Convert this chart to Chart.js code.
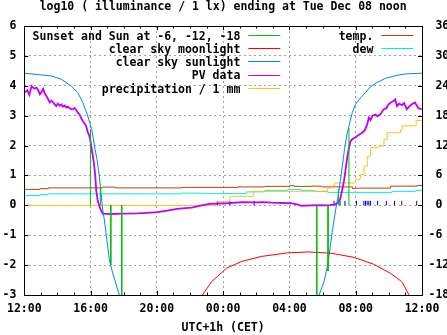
<!DOCTYPE html>
<html>
<head>
<meta charset="utf-8">
<title>log10 illuminance</title>
<script src="https://cdn.jsdelivr.net/npm/chart.js@4.4.1/dist/chart.umd.min.js"></script>
<style>
  html, body { margin: 0; padding: 0; background: #fff; }
  canvas { display: block; }
</style>
</head>
<body>
<canvas id="lux" width="447" height="335"></canvas>
<script>
// x values are hours after Mon 12:00 (CET), left axis is log10(lux), right axis is deg C

var TITLE = 'log10 ( illuminance / 1 lx) ending at Tue Dec 08 noon';
var X_TITLE = 'UTC+1h (CET)';

var xTicks      = [0, 4, 8, 12, 16, 20, 24];
var xTickLabels = ['12:00', '16:00', '20:00', '00:00', '04:00', '08:00', '12:00'];
var yMin = -3, yMax = 6;
var y2Min = -18, y2Max = 36;

// sunset / sunrise and sun at -6, -12, -18 deg (impulses)
var sunHours  = [3.99, 4.59, 5.22, 5.88, 17.65, 18.33, 18.95, 19.59];
var sunLevels = [2.55, 0.6, -2.0, -3.3, -3.3, -2.2, 0.55, 2.6];

var moonHours  = [10.5, 10.75, 11.31, 12.21, 13.11, 14.30, 15.90, 17.12, 18.49, 19.89, 21.08, 22.08, 22.78, 23.22, 23.4];
var moonLevels = [-3.4, -3.0, -2.55, -2.1, -1.88, -1.71, -1.59, -1.56, -1.60, -1.74, -1.97, -2.27, -2.55, -3.0, -3.4];

var sunlightHours  = [0, 1.63, 2.23, 2.83, 3.23, 3.53, 3.83, 4.07, 4.27, 4.39, 4.53, 4.73, 4.83, 5.13, 5.33, 5.52, 5.73, 6.0,
                      17.6, 17.79, 18.09, 18.33, 18.60, 18.79, 18.93, 19.05, 19.19, 19.33, 19.48, 19.59, 19.79, 19.99, 20.29, 20.59, 20.89, 21.29, 21.79, 22.49, 23.08, 24];
var sunlightLevels = [4.42, 4.33, 4.22, 3.99, 3.77, 3.44, 2.99, 2.54, 1.87, 1.53, 0.97, -0.14, -0.48, -1.82, -2.26, -2.6, -3.0, -3.4,
                      -3.4, -3.0, -2.55, -1.93, -0.82, -0.14, 0.28, 0.75, 1.3, 1.9, 2.4, 2.65, 3.1, 3.38, 3.6, 3.77, 3.97, 4.11, 4.25, 4.35, 4.4, 4.42];

var pvHours = [0.00, 0.18, 0.30, 0.44, 0.60, 0.74, 0.84, 0.94, 1.05, 1.14, 1.23, 1.33, 1.44, 1.54, 1.65, 1.74, 1.83, 1.93,
               2.03, 2.14, 2.23, 2.33, 2.44, 2.53, 2.63, 2.74, 2.83, 2.93, 3.03, 3.13, 3.23, 3.33, 3.43, 3.53, 3.63, 3.73,
               3.83, 3.93, 4.01, 4.07, 4.19, 4.28, 4.34, 4.43, 4.59, 4.73, 5.33, 5.93, 6.82, 7.42, 8.02, 8.62, 9.22, 9.70,
               10.11, 10.71, 11.19, 12.21, 13.21, 14.01, 14.42, 14.90, 16.10, 16.52, 16.71, 17.30, 17.78, 18.31, 18.69,
               18.90, 19.05, 19.19, 19.29, 19.39, 19.49, 19.60, 19.69, 19.81, 19.99, 20.17, 20.39, 20.53, 20.69, 20.79,
               20.89, 21.01, 21.19, 21.31, 21.49, 21.68, 21.85, 21.98, 22.14, 22.28, 22.38, 22.49, 22.62, 22.79, 22.92,
               23.08, 23.22, 23.38, 23.58, 23.78, 23.98];
var pvLevels = [3.77, 3.85, 3.7, 3.99, 3.9, 3.94, 3.85, 3.71, 3.8, 3.9, 3.75, 3.66, 3.55, 3.44, 3.5, 3.44, 3.38, 3.32,
                3.4, 3.33, 3.38, 3.3, 3.34, 3.27, 3.3, 3.25, 3.22, 3.21, 3.26, 3.2, 3.1, 3.04, 2.92, 2.82, 2.75, 2.65,
                2.45, 2.32, 2.1, 1.87, 1.45, 1.0, 0.5, 0.15, -0.12, -0.28, -0.29, -0.28, -0.27, -0.25, -0.23, -0.18, -0.12, -0.09,
                -0.08, 0.0, 0.05, 0.07, 0.11, 0.1, 0.11, 0.09, 0.07, 0.02, -0.02, 0.0, 0.01, 0.0, 0.02,
                0.08, 0.19, 0.53, 0.81, 1.2, 1.6, 1.95, 2.15, 2.22, 2.28, 2.35, 2.43, 2.5, 2.7, 2.93,
                2.85, 3.0, 3.04, 2.98, 3.05, 3.21, 3.25, 3.38, 3.45, 3.49, 3.55, 3.32, 3.4, 3.35, 3.42,
                3.21, 3.3, 3.38, 3.44, 3.25, 3.21];

var precipHours  = [0, 11.61, 12.41, 13.82, 18.31, 18.59, 18.73, 19.99, 20.23, 20.3, 20.5, 20.7, 20.9, 21.4, 21.7, 21.9, 22.7, 22.8, 23.65, 24];
var precipLevels = [0, 0.12, 0.3, 0.47, 0.58, 0.66, 0.75, 0.86, 0.9, 1.03, 1.31, 1.64, 1.93, 1.98, 2.2, 2.43, 2.52, 2.66, 2.84, 2.84];

// single rain events (short dark blue impulses)
var rainHours  = [11.67, 12.41, 13.87, 18.69, 19.05, 19.35, 20.05, 20.49, 20.59, 20.69, 20.79, 20.89, 21.32, 21.85, 22.34, 22.78, 23.68];
var rainLevels = [0.15, 0.15, 0.15, 0.15, 0.15, 0.15, 0.15, 0.15, 0.15, 0.15, 0.15, 0.15, 0.15, 0.15, 0.15, 0.15, 0.15];

var tempHours = [0, 0.94, 1.45, 4.7, 5.5, 9.5, 12.9, 14.5, 16.0, 16.3, 17.3, 17.9, 19.8, 20.0, 22.1, 23.7, 24];
var tempDegC  = [3.2, 3.35, 3.5, 3.65, 3.5, 3.6, 3.7, 3.8, 3.95, 3.8, 3.85, 3.7, 3.35, 3.45, 3.85, 4.0, 4.0];

var dewHours = [0, 0.94, 1.45, 9.5, 10.7, 13.4, 14.5, 15.9, 16.7, 17.5, 18.3, 22.2, 23.6, 24];
var dewDegC  = [1.95, 2.15, 2.3, 2.45, 2.35, 2.7, 3.0, 3.2, 3.0, 2.8, 2.6, 2.8, 3.0, 3.0];

var FAMILY = "'DejaVu Sans Mono', monospace";
var FONT = 'bold 11.5px ' + FAMILY;

function pairs(xs, ys) {
    return xs.map(function (h, i) { return { x: h, y: ys[i] }; });
}
function impulses(xs, ys) {
    var out = [];
    xs.forEach(function (h, i) {
        out.push({ x: h, y: 0 }, { x: h, y: ys[i] }, { x: h, y: null });
    });
    return out;
}
function line(label, color, data, extra) {
    var ds = {
        label: label, data: data, borderColor: color, backgroundColor: color,
        borderWidth: 1, pointRadius: 0, tension: 0, fill: false, spanGaps: false, yAxisID: 'y'
    };
    for (var k in extra) ds[k] = extra[k];
    return ds;
}

var datasets = [
    line('Sunset and Sun at -6, -12, -18', '#00c000', impulses(sunHours, sunLevels)),
    line('clear sky moonlight', '#ff0000', pairs(moonHours, moonLevels)),
    line('clear sky sunlight', '#0080ff', pairs(sunlightHours, sunlightLevels)),
    line('PV data', '#c000ff', pairs(pvHours, pvLevels), { borderWidth: 1.8 }),
    line('precipitation / 1 mm', '#ffc020', pairs(precipHours, precipLevels), { stepped: true }),
    line('temp.', '#c04000', pairs(tempHours, tempDegC), { stepped: true, yAxisID: 'y2' }),
    line('dew', '#00eeee', pairs(dewHours, dewDegC), { stepped: true, yAxisID: 'y2' }),
    line('', '#0000cc', impulses(rainHours, rainLevels), { noKey: true })
];

// gnuplot style key: two columns, text right-aligned, sample line after it
var keyPlugin = {
    id: 'gpKey',
    afterDatasetsDraw: function (chart) {
        var ctx = chart.ctx, a = chart.chartArea;
        ctx.save();
        ctx.font = FONT;
        ctx.fillStyle = '#000';
        ctx.textAlign = 'right';
        ctx.textBaseline = 'alphabetic';
        var col = 0, row = 0;
        chart.data.datasets.forEach(function (ds, i) {
            if (ds.noKey) return;
            if (i === 5) { col = 1; row = 0; }
            var textRight = a.left + (col ? 349 : 216);
            var y = a.top + 9 + row * 13.2;
            ctx.fillText(ds.label, textRight, Math.round(y + 4.7));
            ctx.strokeStyle = ds.borderColor;
            ctx.lineWidth = 1;
            ctx.beginPath();
            ctx.moveTo(textRight + 8, Math.round(y) + 0.5);
            ctx.lineTo(textRight + 40, Math.round(y) + 0.5);
            ctx.stroke();
            row++;
        });
        ctx.restore();
    }
};

// border, inward ticks (hourly minor ticks on x) and title
var framePlugin = {
    id: 'gpFrame',
    afterDatasetsDraw: function (chart) {
        var ctx = chart.ctx, a = chart.chartArea;
        var xs = chart.scales.x, ys = chart.scales.y;
        ctx.save();
        ctx.strokeStyle = '#000';
        ctx.lineWidth = 1;
        ctx.beginPath();
        for (var h = 1; h < 24; h++) {
            var px = Math.round(xs.getPixelForValue(h)) + 0.5;
            var len = h % 4 === 0 ? 4 : 2.5;
            ctx.moveTo(px, a.bottom); ctx.lineTo(px, a.bottom - len);
            ctx.moveTo(px, a.top); ctx.lineTo(px, a.top + len);
        }
        for (var v = yMin + 1; v < yMax; v++) {
            var py = Math.round(ys.getPixelForValue(v)) + 0.5;
            ctx.moveTo(a.left, py); ctx.lineTo(a.left + 4, py);
            ctx.moveTo(a.right, py); ctx.lineTo(a.right - 4, py);
        }
        ctx.stroke();
        ctx.strokeRect(Math.round(a.left) + 0.5, Math.round(a.top) + 0.5,
                       Math.round(a.right - a.left), Math.round(a.bottom - a.top));
        ctx.restore();
    },
    afterDraw: function (chart) {
        var ctx = chart.ctx, a = chart.chartArea;
        ctx.save();
        ctx.font = FONT;
        ctx.fillStyle = '#000';
        ctx.textAlign = 'center';
        ctx.textBaseline = 'alphabetic';
        ctx.fillText(TITLE, (a.left + a.right) / 2, 10);
        ctx.restore();
    }
};

Chart.defaults.font.family = FAMILY;
Chart.defaults.font.size = 11.5;
Chart.defaults.font.weight = 'bold';
Chart.defaults.color = '#000';

new Chart(document.getElementById('lux'), {
    type: 'line',
    data: { datasets: datasets },
    options: {
        responsive: false,
        animation: false,
        devicePixelRatio: 1,
        layout: { padding: { top: 26, left: 0, right: 0, bottom: 0 } },
        plugins: { legend: { display: false }, title: { display: false }, tooltip: { enabled: false } },
        scales: {
            x: {
                type: 'linear', min: 0, max: 24,
                afterFit: function (s) { s.height = 40; },
                ticks: {
                    stepSize: 4, padding: 7, autoSkip: false, maxRotation: 0,
                    callback: function (v) { return xTickLabels[xTicks.indexOf(v)]; }
                },
                grid: { color: '#a0a0a0', drawTicks: false },
                border: { display: false, dash: [2, 3] },
                title: { display: true, text: X_TITLE, padding: { top: 0, bottom: 0 } }
            },
            y: {
                min: yMin, max: yMax,
                afterFit: function (s) { s.width = 21; },
                ticks: { stepSize: 1, padding: 8 },
                grid: { color: '#a0a0a0', drawTicks: false },
                border: { display: false, dash: [2, 3] }
            },
            y2: {
                position: 'right', min: y2Min, max: y2Max,
                afterFit: function (s) { s.width = 25; },
                ticks: {
                    stepSize: 6, padding: 6.5,
                    callback: function (v) { return (v < 0 ? '' : ' ') + v; }
                },
                grid: { display: false, drawTicks: false },
                border: { display: false }
            }
        }
    },
    plugins: [keyPlugin, framePlugin]
});
</script>
</body>
</html>
